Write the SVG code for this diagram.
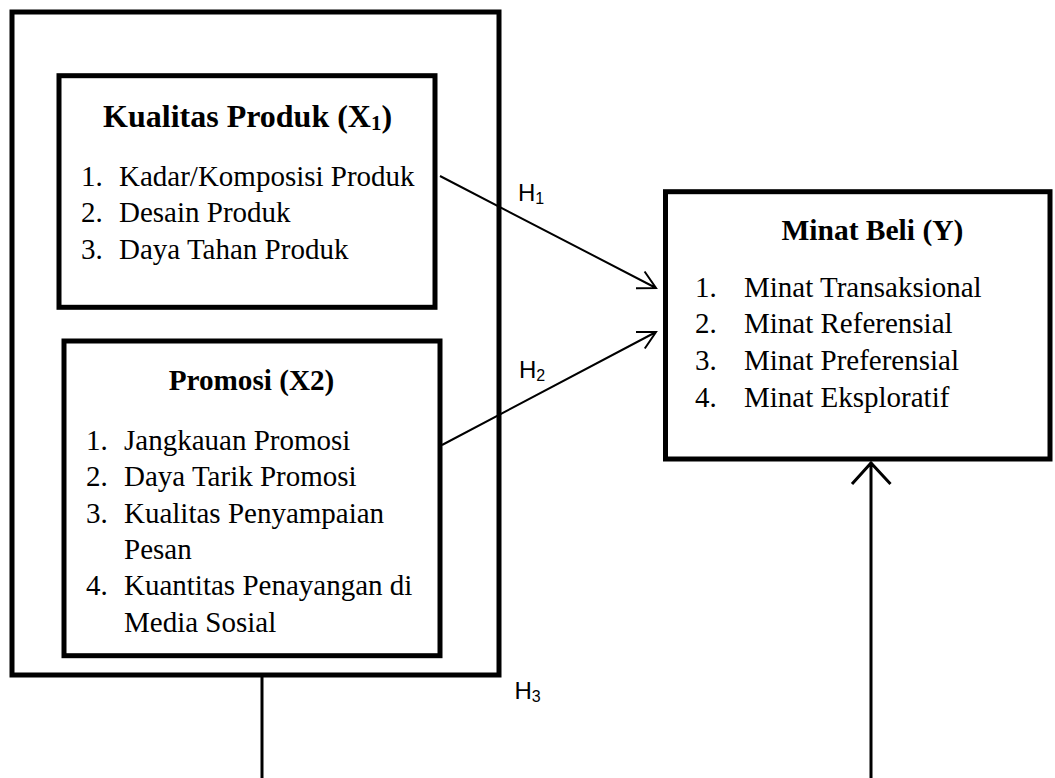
<svg xmlns="http://www.w3.org/2000/svg" width="1055" height="778" viewBox="0 0 1055 778">
<style>
.box{fill:none;stroke:#000;stroke-width:5}
.t{font-family:"Liberation Serif","Times New Roman",serif;fill:#000}
.b{font-weight:bold}
.h{font-family:"Liberation Sans",Arial,sans-serif;font-size:24px;fill:#000}
.ln{fill:none;stroke:#000;stroke-width:2}
.vl{fill:none;stroke:#000;stroke-width:3}
</style>
<rect width="1055" height="778" fill="#fff"/>
<g id="outer">
<rect class="box" x="12" y="12" width="487" height="663"/>
</g>
<g id="x1">
<rect class="box" x="59" y="75.7" width="376" height="231.6"/>
<text class="t b" x="247.6" y="127" font-size="32" text-anchor="middle">Kualitas Produk (X<tspan font-size="21" dy="3">1</tspan><tspan dy="-3">)</tspan></text>
<text class="t" font-size="29"><tspan x="81" y="185.5">1.</tspan><tspan x="119" y="185.5">Kadar/Komposisi Produk</tspan><tspan x="81" y="222">2.</tspan><tspan x="119" y="222">Desain Produk</tspan><tspan x="81" y="258.5">3.</tspan><tspan x="119" y="258.5">Daya Tahan Produk</tspan></text>
</g>
<g id="x2">
<rect class="box" x="64" y="341" width="376" height="314.7"/>
<text class="t b" x="251.5" y="390" font-size="29.2" text-anchor="middle">Promosi (X2)</text>
<text class="t" font-size="29"><tspan x="86" y="450">1.</tspan><tspan x="124" y="450">Jangkauan Promosi</tspan><tspan x="86" y="486">2.</tspan><tspan x="124" y="486">Daya Tarik Promosi</tspan><tspan x="86" y="523">3.</tspan><tspan x="124" y="523">Kualitas Penyampaian</tspan><tspan x="124" y="559">Pesan</tspan><tspan x="86" y="595">4.</tspan><tspan x="124" y="595">Kuantitas Penayangan di</tspan><tspan x="124" y="632">Media Sosial</tspan></text>
</g>
<g id="y">
<rect class="box" x="665.5" y="191.7" width="384.5" height="267.3"/>
<text class="t b" x="872.4" y="240" font-size="29.5" text-anchor="middle">Minat Beli (Y)</text>
<text class="t" font-size="29"><tspan x="695" y="297">1.</tspan><tspan x="744" y="297">Minat Transaksional</tspan><tspan x="695" y="333">2.</tspan><tspan x="744" y="333">Minat Referensial</tspan><tspan x="695" y="370">3.</tspan><tspan x="744" y="370">Minat Preferensial</tspan><tspan x="695" y="407">4.</tspan><tspan x="744" y="407">Minat Eksploratif</tspan></text>
</g>
<g id="connectors">
<path class="ln" d="M440,176 L656,288 M636,288.2 L656,288 L644.6,271.5"/>
<path class="ln" d="M442,445 L656,332 M636,331.9 L656,332 L644.8,348.5"/>
<path class="vl" d="M262,677 L262,778"/>
<path class="vl" d="M871,778 L871,462 M852,484 L871,463 L890.5,484"/>
</g>
<g id="labels">
<text class="h" x="518" y="201">H<tspan font-size="16" dy="3">1</tspan></text>
<text class="h" x="519" y="378">H<tspan font-size="16" dy="3">2</tspan></text>
<text class="h" x="514.5" y="699">H<tspan font-size="16" dy="3">3</tspan></text>
</g>
</svg>
